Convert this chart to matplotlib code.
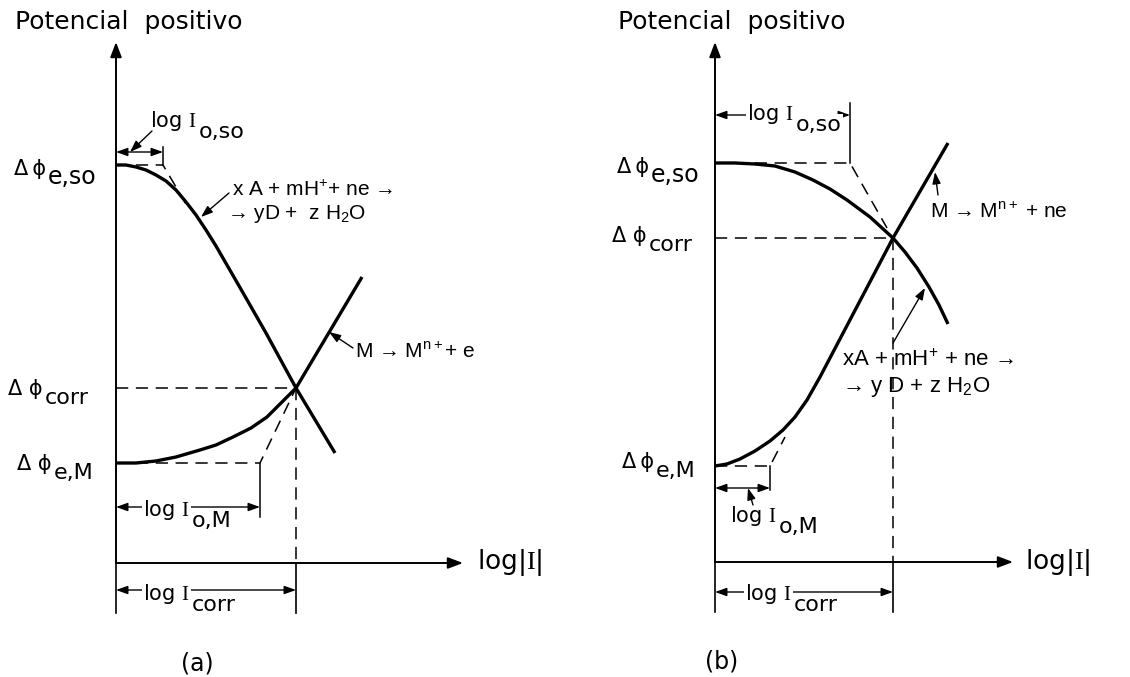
import matplotlib.pyplot as plt

plt.rcParams['font.family'] = ['DejaVu Sans']
plt.rcParams['mathtext.fontset'] = 'custom'
plt.rcParams['mathtext.rm'] = 'Liberation Sans'
plt.rcParams['mathtext.it'] = 'Liberation Sans'
plt.rcParams['mathtext.tt'] = 'Liberation Serif'
plt.rcParams['mathtext.default'] = 'rm'

W, H = 1130, 677

# ---- panel (a): x = log|I|, y = potential, both measured from the axes corner
a_phi_so, a_phi_M, a_phi_corr = 398, 100, 175
a_logI0_so, a_logI0_M, a_logIcorr = 47, 144, 180
# reduction of the oxidant  xA + mH+ + ne -> yD + zH2O
a_red_x = [0, 10, 20, 30, 40, 50, 60, 70, 80, 90, 100, 115, 130, 150, 180, 219]
a_red_y = [398, 398, 396, 393, 388, 382, 373, 361, 348, 333, 317, 291, 265, 230, 175, 110]
# metal dissolution  M -> M(n+) + ne
a_ox_x = [0, 20, 40, 60, 84, 100, 117, 135, 151, 167, 180, 246]
a_ox_y = [100, 100, 102, 106, 113, 118, 126, 135, 146, 162, 175, 286]
# Tafel extrapolations (dashed)
a_taf_so_x = [0, 47, 70]
a_taf_so_y = [398, 398, 359]
a_taf_M_x = [0, 144, 180]
a_taf_M_y = [100, 100, 175]

# ---- panel (b)
b_phi_so, b_phi_M, b_phi_corr = 399, 96, 324
b_logI0_so, b_logI0_M, b_logIcorr = 135, 55, 178
b_red_x = [0, 20, 40, 60, 80, 98, 115, 132, 155, 178, 190, 202, 214, 224, 233]
b_red_y = [399, 399, 398, 396, 390, 382, 373, 362, 345, 324, 310, 294, 275, 257, 238]
b_ox_x = [0, 12, 25, 40, 55, 68, 80, 92, 105, 178, 233]
b_ox_y = [96, 98, 103, 111, 121, 132, 145, 162, 185, 324, 419]
b_taf_so_x = [0, 135, 172]
b_taf_so_y = [399, 399, 334]
b_taf_M_x = [0, 55, 70]
b_taf_M_y = [96, 96, 125]

FS = 15
EQ = dict(fontsize=FS, family='Liberation Sans', ha='left', va='center')
AX_HEAD = '-|>,head_length=0.45,head_width=0.17'
SMALL_HEAD = '-|>,head_length=0.7,head_width=0.25'
BOTH_HEAD = '<|-|>,head_length=0.7,head_width=0.25'
WHITE = dict(fc='white', ec='none', pad=1)
LOG_I = r'log $\mathtt{I}$'

fig = plt.figure(figsize=(W / 100, H / 100), dpi=100)


def make_axes(ox, oy):
    ax = fig.add_axes([0, 0, 1, 1])
    ax.set_xlim(-ox, W - ox)
    ax.set_ylim(oy - H, oy)
    ax.axis('off')
    ax.patch.set_alpha(0)
    return ax


def arrow(ax, x0, y0, x1, y1, style=SMALL_HEAD, lw=1.0, ms=10):
    ax.annotate('', xy=(x1, y1), xytext=(x0, y0),
                arrowprops=dict(arrowstyle=style, lw=lw, color='k',
                                shrinkA=0, shrinkB=0, mutation_scale=ms))


def dashed(ax, xs, ys):
    ax.plot(xs, ys, color='k', lw=1.1, dashes=(8, 5), solid_capstyle='butt')


def sub_text(ax, x, y, main, sub, fs=15, sfs=16, dy=-3.5, bbox=None):
    # main text on a baseline, subscript hung just after it
    t = ax.text(x, y, main, fontsize=fs, ha='left', va='baseline', bbox=bbox)
    ax.annotate(sub, xy=(1, 0), xycoords=t, xytext=(1.5, dy),
                textcoords='offset points', fontsize=sfs, ha='left',
                va='baseline', bbox=bbox)


def phi_label(ax, x, y, main, sub, sfs=16):
    sub_text(ax, x, y, main, sub, fs=15, sfs=sfs, dy=-3.5)


def frame(ax, x_end, y_end, logIcorr, phi_corr, label_x):
    # coordinate axes
    arrow(ax, 0, 0, 0, y_end, AX_HEAD, lw=1.4, ms=20)
    arrow(ax, 0, 0, x_end, 0, AX_HEAD, lw=1.4, ms=20)
    ax.text(label_x, 0, r'log|$\mathtt{I}$|', fontsize=19, ha='left', va='center')
    # corrosion point projections
    dashed(ax, [0, logIcorr], [phi_corr, phi_corr])
    dashed(ax, [logIcorr, logIcorr], [phi_corr, 0])
    ax.plot([0, 0], [0, -50], color='k', lw=1.2)
    ax.plot([logIcorr, logIcorr], [0, -50], color='k', lw=1.2)


# ================= (a)
ax = make_axes(116, 563)
frame(ax, 347, 521, a_logIcorr, a_phi_corr, 361)
ax.plot(a_red_x, a_red_y, color='k', lw=2.4, solid_capstyle='butt')
ax.plot(a_ox_x, a_ox_y, color='k', lw=2.4, solid_capstyle='butt')
dashed(ax, a_taf_so_x, a_taf_so_y)
dashed(ax, a_taf_M_x, a_taf_M_y)

ax.text(-101, 541, 'Potencial  positivo', fontsize=18, ha='left', va='center')
phi_label(ax, -102, 388, 'Δ\u2009ϕ', 'e,so', sfs=17)
phi_label(ax, -108, 168, 'Δ ϕ', 'corr')
phi_label(ax, -99, 93, 'Δ ϕ', 'e,M')

# exchange current of the oxidant
arrow(ax, 0, 411, a_logI0_so, 411, BOTH_HEAD)
ax.plot([a_logI0_so, a_logI0_so], [a_phi_so, 416], color='k', lw=1.1)
sub_text(ax, 34, 436, LOG_I, 'o,so')
arrow(ax, 36, 432, 14, 411)

# exchange current of the metal
arrow(ax, 0, 56, a_logI0_M, 56, BOTH_HEAD)
ax.plot([a_logI0_M, a_logI0_M], [a_phi_M, 46], color='k', lw=1.1)
sub_text(ax, 27, 47, LOG_I, 'o,M', bbox=WHITE)

# corrosion current
arrow(ax, 0, -27, a_logIcorr, -27, BOTH_HEAD)
sub_text(ax, 27, -37, LOG_I, 'corr', bbox=WHITE)

ax.text(116, 373, r'x A + mH$^{+}$+ ne →', **EQ)
ax.text(111, 349, r'→ yD +  z H$_2$O', **EQ)
arrow(ax, 113, 370, 85, 346)

ax.text(239, 211, r'M → M$^{n+}$+ e', **EQ)
arrow(ax, 237, 215, 213, 231)

ax.text(81, -100, '(a)', fontsize=17, ha='center', va='center')

# ================= (b)
ax = make_axes(715, 562)
frame(ax, 298, 520, b_logIcorr, b_phi_corr, 310)
ax.plot(b_red_x, b_red_y, color='k', lw=2.4, solid_capstyle='butt')
ax.plot(b_ox_x, b_ox_y, color='k', lw=2.4, solid_capstyle='butt')
dashed(ax, b_taf_so_x, b_taf_so_y)
dashed(ax, b_taf_M_x, b_taf_M_y)

ax.text(-97, 540, 'Potencial  positivo', fontsize=18, ha='left', va='center')
phi_label(ax, -98, 389, 'Δ\u2009ϕ', 'e,so', sfs=17)
phi_label(ax, -103, 320, 'Δ ϕ', 'corr')
phi_label(ax, -93, 94, 'Δ\u2009ϕ', 'e,M')

arrow(ax, 0, 447, b_logI0_so, 447, BOTH_HEAD)
ax.plot([b_logI0_so, b_logI0_so], [b_phi_so, 459], color='k', lw=1.1)
sub_text(ax, 32, 442, LOG_I, 'o,so', bbox=WHITE)

arrow(ax, 0, 74, b_logI0_M, 74, BOTH_HEAD)
ax.plot([b_logI0_M, b_logI0_M], [b_phi_M, 72], color='k', lw=1.1)
sub_text(ax, 15, 40, LOG_I, 'o,M')
arrow(ax, 38, 57, 33, 74)

arrow(ax, 0, -30, b_logIcorr, -30, BOTH_HEAD)
sub_text(ax, 30, -38, LOG_I, 'corr', bbox=WHITE)

ax.text(215, 350, r'M → M$^{n+}$ + ne', **EQ)
arrow(ax, 223, 367, 220, 390)

EQ_B = dict(EQ, fontsize=16)
ax.text(127, 202, r'xA + mH$^{+}$ + ne →', **EQ_B)
ax.text(127, 175, r'→ y D + z H$_2$O', **EQ_B)
arrow(ax, 178, 219, 210, 274)

ax.text(7, -100, '(b)', fontsize=17, ha='center', va='center')

fig.savefig('out.png', dpi=100, facecolor='white')
